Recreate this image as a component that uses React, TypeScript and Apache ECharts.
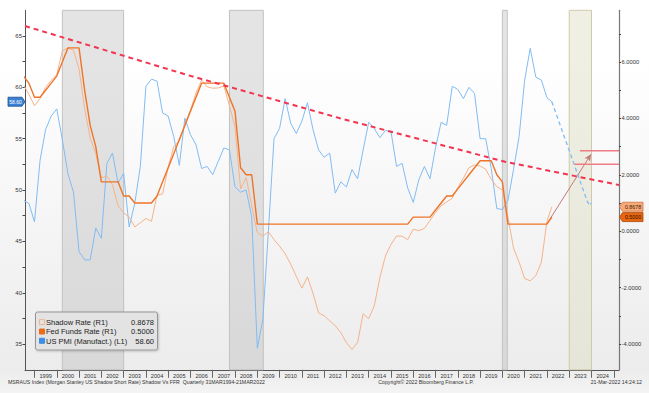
import React, { useEffect, useRef } from "react";
import * as echarts from "echarts";

// Quarter-end dates (decimal years), last point 21-Mar-2022
const TIMES: number[] = [];
for (let i = 0; i < 95; i++) TIMES.push(1998.5 + i * 0.25);
TIMES.push(2022.22);

const FED_FUNDS = [
  5.5, 5.25, 4.75, 4.75, 5.0, 5.25, 5.5, 6.0,
  6.5, 6.5, 6.5, 5.0, 3.75, 3.0, 1.75, 1.75,
  1.75, 1.75, 1.25, 1.25, 1.0, 1.0, 1.0, 1.0,
  1.25, 1.75, 2.25, 2.75, 3.25, 3.75, 4.25, 4.75,
  5.25, 5.25, 5.25, 5.25, 5.25, 4.75, 4.25, 2.25,
  2.0, 2.0, 0.25, 0.25, 0.25, 0.25, 0.25, 0.25,
  0.25, 0.25, 0.25, 0.25, 0.25, 0.25, 0.25, 0.25,
  0.25, 0.25, 0.25, 0.25, 0.25, 0.25, 0.25, 0.25,
  0.25, 0.25, 0.25, 0.25, 0.25, 0.25, 0.5, 0.5,
  0.5, 0.5, 0.75, 1.0, 1.25, 1.25, 1.5, 1.75,
  2.0, 2.25, 2.5, 2.5, 2.5, 2.0, 1.75, 0.25,
  0.25, 0.25, 0.25, 0.25, 0.25, 0.25, 0.25, 0.5,
];

const SHADOW_RATE = [
  5.2, 4.85, 4.45, 4.7, 5.1, 5.35, 5.55, 6.4,
  6.5, 6.42, 5.75, 4.35, 3.3, 2.75, 1.9, 1.95,
  1.65, 0.9, 0.65, 0.5, 0.15, 0.3, 0.45, 0.35,
  1.28, 1.32, 2.27, 3.0, 3.2, 3.8, 4.3, 4.9,
  5.36, 5.12, 5.07, 5.08, 5.15, 4.45, 3.7, 1.5,
  1.9, 0.9, -0.05, -0.17, -0.02, -0.3, -0.53, -0.8,
  -1.17, -1.6, -2.02, -1.62, -2.2, -2.9, -3.0, -3.18,
  -3.35, -3.6, -3.95, -4.19, -3.95, -2.93, -3.1, -2.65,
  -1.65, -0.88, -0.47, -0.17, -0.18, -0.3, 0.07, 0.02,
  0.1, 0.38, 0.66, 0.9, 1.04, 1.17, 1.55, 1.88,
  2.25, 2.35, 2.31, 2.2, 1.84, 1.58, 1.46, 0.5,
  -0.6, -1.1, -1.68, -1.76, -1.58, -1.1, 0.35, 0.8678,
];

const US_PMI = [
  49.0, 48.7, 46.9, 52.9, 55.9, 57.2, 57.9, 54.9,
  51.6, 49.8, 44.0, 43.2, 43.2, 46.3, 45.3, 52.6,
  53.6, 50.7, 51.6, 46.4, 48.7, 52.3, 60.1, 60.8,
  60.6, 57.5, 57.2, 55.2, 52.4, 57.0, 55.4, 54.4,
  52.1, 52.3, 51.5, 52.8, 54.1, 53.9, 50.3, 49.8,
  50.0, 47.4, 34.6, 37.4, 46.1, 55.0, 56.0, 58.9,
  56.5, 55.5, 56.7, 58.5, 55.9, 53.9, 53.2, 53.6,
  49.7, 50.8, 50.3, 52.0, 51.1, 53.9, 56.6, 56.0,
  55.1, 55.8, 55.7, 52.3, 52.6, 50.2, 48.8, 51.0,
  52.3, 51.1, 54.1, 56.6, 56.3, 60.1, 59.8, 58.9,
  60.0, 59.4, 55.0, 55.0, 52.1, 48.2, 48.1, 49.0,
  52.0, 55.2, 60.7, 63.8, 61.0, 60.7, 59.0, 58.6,
];

// Annotations
const TREND_X = [1998.574, 2005.755, 2012.712, 2020.117, 2025.234];
const TREND_Y = [65.97, 61.27, 56.99, 52.76, 50.49];
const PMI_FORECAST_X = [2022.22, 2023.81, 2023.92, 2024.0];
const PMI_FORECAST_Y = [58.6, 48.9, 48.5, 48.75];
const DOT_UPPER = { from: 2023.48, value: 2.85 };
const DOT_LOWER = { from: 2023.23, value: 2.375 };
const ARROW = { from: [2022.03, 0.3], to: [2023.98, 2.73] };
const GREY_BANDS = [
  [2000.25, 2003.0],
  [2007.75, 2009.27],
  [2020.0, 2020.22],
];
const TAN_BAND = [2023.0, 2024.0];

// Axes
const X_MIN = 1998.574;
const X_MAX = 2025.234;
const L_MIN = 32.5;
const L_MAX = 67.5;
const R_MIN = -4.915;
const R_MAX = 7.833;
const YEAR_TICKS = [1999, 2000, 2001, 2002, 2003, 2004, 2005, 2006, 2007, 2008, 2009, 2010, 2011, 2012, 2013, 2014, 2015, 2016, 2017, 2018, 2019, 2020, 2021, 2022, 2023, 2024, 2025];
const YEAR_LABELS = YEAR_TICKS.slice(0, -1).map((y) => y + 0.5);
const LEFT_LABELS = [35, 40, 45, 50, 55, 60, 65];
const LEFT_TICKS = [35, 37.5, 40, 42.5, 45, 47.5, 50, 52.5, 55, 57.5, 60, 62.5, 65];
const RIGHT_LABELS = [-4, -2, 0, 2, 4, 6];
const RIGHT_TICKS = [-4, -3, -2, -1, 0, 1, 2, 3, 4, 5, 6, 7];

const LEGEND = [
  { name: "Shadow Rate (R1)", value: "0.8678" },
  { name: "Fed Funds Rate (R1)", value: "0.5000" },
  { name: "US PMI (Manufact.) (L1)", value: "58.60" },
];

const FONT = "'Liberation Sans', Arial, sans-serif";

const zip = (vals: number[]) => TIMES.map((t, i) => [t, vals[i]]);
const pair = (xs: number[], ys: number[]) => xs.map((x, i) => [x, ys[i]]);

export default function App() {
  const ref = useRef<HTMLDivElement>(null);

  useEffect(() => {
    if (!ref.current) return;
    const chart = echarts.init(ref.current, undefined, { renderer: "svg" });

    const greyStyle = { color: "rgba(185,185,185,0.38)", borderColor: "#c2c2c2", borderWidth: 1 };
    const tanStyle = { color: "rgba(222,219,196,0.45)", borderColor: "#cfcbaa", borderWidth: 1 };

    const option: any = {
      animation: false,
      grid: { left: 25, right: 30, top: 10.3, bottom: 23.2 },
      xAxis: {
        type: "value",
        min: X_MIN,
        max: X_MAX,
        axisLine: { show: true, onZero: false, lineStyle: { color: "#555", width: 1 } },
        axisTick: { show: true, customValues: YEAR_TICKS, length: 8, lineStyle: { color: "#666" } },
        axisLabel: {
          customValues: YEAR_LABELS,
          formatter: (v: number) => String(Math.floor(v)),
          fontSize: 5.6,
          color: "#333",
          margin: 3,
          fontFamily: FONT,
        },
        splitLine: { show: false },
      },
      yAxis: [
        {
          type: "value",
          position: "left",
          min: L_MIN,
          max: L_MAX,
          axisLine: { show: true, lineStyle: { color: "#555", width: 1 } },
          axisTick: { show: true, customValues: LEFT_TICKS, length: 2.5, lineStyle: { color: "#444" } },
          axisLabel: { customValues: LEFT_LABELS, fontSize: 6, color: "#333", margin: 3, fontFamily: FONT },
          splitLine: { show: false },
        },
        {
          type: "value",
          position: "right",
          min: R_MIN,
          max: R_MAX,
          axisLine: { show: true, lineStyle: { color: "#777", width: 1.2 } },
          axisTick: { show: true, customValues: RIGHT_TICKS, length: 2, lineStyle: { color: "#444" } },
          axisLabel: {
            customValues: RIGHT_LABELS,
            formatter: (v: number) => v.toFixed(4),
            fontSize: 5.8,
            color: "#333",
            margin: 2.5,
            fontFamily: FONT,
          },
          splitLine: { show: false },
        },
      ],
      series: [
        {
          name: "US PMI (Manufact.) (L1)",
          type: "line",
          yAxisIndex: 0,
          data: zip(US_PMI),
          symbol: "none",
          lineStyle: { color: "#80bcf4", width: 1 },
          z: 3,
          markArea: {
            silent: true,
            data: [
              ...GREY_BANDS.map((b) => [
                { xAxis: b[0], itemStyle: greyStyle },
                { xAxis: b[1] },
              ]),
              [{ xAxis: TAN_BAND[0], itemStyle: tanStyle }, { xAxis: TAN_BAND[1] }],
            ],
          },
        },
        {
          name: "Shadow Rate (R1)",
          type: "line",
          yAxisIndex: 1,
          data: zip(SHADOW_RATE),
          symbol: "none",
          lineStyle: { color: "#f6b28a", width: 1 },
          z: 4,
        },
        {
          name: "Fed Funds Rate (R1)",
          type: "line",
          yAxisIndex: 1,
          data: zip(FED_FUNDS),
          symbol: "none",
          lineStyle: { color: "#ee7428", width: 1.4 },
          z: 5,
        },
        {
          name: "trend",
          type: "line",
          yAxisIndex: 0,
          data: pair(TREND_X, TREND_Y),
          symbol: "none",
          lineStyle: { color: "#f23450", width: 2, type: [5, 4] },
          z: 6,
        },
        {
          name: "pmiForecast",
          type: "line",
          yAxisIndex: 0,
          data: pair(PMI_FORECAST_X, PMI_FORECAST_Y),
          symbol: "none",
          lineStyle: { color: "#80bcf4", width: 1.3, type: [4, 3] },
          z: 6,
        },
        {
          name: "dotUpper",
          type: "line",
          yAxisIndex: 1,
          data: [
            [DOT_UPPER.from, DOT_UPPER.value],
            [X_MAX, DOT_UPPER.value],
          ],
          symbol: "none",
          lineStyle: { color: "#ef7c84", width: 1.5 },
          z: 6,
        },
        {
          name: "dotLower",
          type: "line",
          yAxisIndex: 1,
          data: [
            [DOT_LOWER.from, DOT_LOWER.value],
            [X_MAX, DOT_LOWER.value],
          ],
          symbol: "none",
          lineStyle: { color: "#ef7c84", width: 1.5 },
          z: 6,
          markLine: {
            silent: true,
            symbol: ["none", "arrow"],
            symbolSize: [5, 7],
            label: { show: false },
            lineStyle: { color: "#c47a7a", width: 1, type: "solid" },
            data: [[{ coord: ARROW.from }, { coord: ARROW.to }]],
          },
        },
      ],
    };

    chart.setOption(option);

    const yL = chart.convertToPixel({ yAxisIndex: 0 } as any, 58.6) as number;
    const yS = chart.convertToPixel({ yAxisIndex: 1 } as any, 0.8678) as number;
    const yF = chart.convertToPixel({ yAxisIndex: 1 } as any, 0.5) as number;

    const rightTag = (y: number, text: string, fill: string, stroke: string, color: string) => ({
      type: "group",
      children: [
        {
          type: "polygon",
          shape: { points: [[619.5, y], [622.5, y - 4.5], [643, y - 4.5], [643, y + 4.5], [622.5, y + 4.5]] },
          style: { fill, stroke, lineWidth: 0.8 },
          z: 20,
        },
        {
          type: "text",
          x: 633,
          y,
          style: { text, fill: color, fontSize: 5.3, fontFamily: FONT, align: "center", verticalAlign: "middle" },
          z: 21,
        },
      ],
    });

    const legendRows = [322.3, 331.7, 341];
    const legendIcons = [
      { fill: "rgba(255,255,255,0)", stroke: "#f6b28a" },
      { fill: "#ee6a1a", stroke: "#ee6a1a" },
      { fill: "#3b8fea", stroke: "#3b8fea" },
    ];

    const graphic: any[] = [
      {
        type: "rect",
        shape: { x: 35.5, y: 312, width: 122, height: 38, r: 2 },
        style: { fill: "#e3e3e3", stroke: "#959595", lineWidth: 1, shadowBlur: 2, shadowColor: "rgba(0,0,0,0.2)", shadowOffsetX: 1, shadowOffsetY: 1 },
        z: 20,
      },
      ...LEGEND.flatMap((item, i) => [
        {
          type: "rect",
          shape: { x: 39.5, y: legendRows[i] - 2.7, width: 5, height: 5 },
          style: { fill: legendIcons[i].fill, stroke: legendIcons[i].stroke, lineWidth: 1 },
          z: 21,
        },
        {
          type: "text",
          x: 46,
          y: legendRows[i],
          style: { text: item.name, fill: "#222", fontSize: 7.5, fontFamily: FONT, verticalAlign: "middle" },
          z: 21,
        },
        {
          type: "text",
          x: 154,
          y: legendRows[i],
          style: { text: item.value, fill: "#222", fontSize: 7.5, fontFamily: FONT, align: "right", verticalAlign: "middle" },
          z: 21,
        },
      ]),
      {
        type: "polygon",
        shape: { points: [[8, yL - 4.5], [22, yL - 4.5], [25, yL], [22, yL + 4.5], [8, yL + 4.5]] },
        style: { fill: "#3a80d4", stroke: "#1d4f90", lineWidth: 0.8 },
        z: 20,
      },
      {
        type: "text",
        x: 15.5,
        y: yL,
        style: { text: "58.60", fill: "#ffffff", fontSize: 5, fontFamily: FONT, align: "center", verticalAlign: "middle" },
        z: 21,
      },
      rightTag(yS, "0.8678", "#f7a978", "#cf7444", "#3a1a00"),
      rightTag(yF, "0.5000", "#e8660f", "#a94806", "#2a0c00"),
      {
        type: "text",
        x: 8,
        y: 382.3,
        style: {
          text: "MSRAUS Index (Morgan Stanley US Shadow Short Rate) Shadow Vs FFR  Quarterly 31MAR1994-21MAR2022",
          fill: "#333",
          fontSize: 5.2,
          fontFamily: FONT,
          verticalAlign: "middle",
        },
      },
      {
        type: "text",
        x: 426,
        y: 382.3,
        style: { text: "Copyright\u00a9 2022 Bloomberg Finance L.P.", fill: "#333", fontSize: 5.2, fontFamily: FONT, align: "center", verticalAlign: "middle" },
      },
      {
        type: "text",
        x: 642,
        y: 382.3,
        style: { text: "21-Mar-2022 14:24:12", fill: "#333", fontSize: 5.2, fontFamily: FONT, align: "right", verticalAlign: "middle" },
      },
    ];

    chart.setOption({ graphic });

    return () => chart.dispose();
  }, []);

  return (
    <div
      ref={ref}
      style={{
        position: "absolute",
        left: 0,
        top: 0,
        width: 649,
        height: 393,
        background: "linear-gradient(#ffffff 0px, #ffffff 60px, #ececec 370px, #f4f4f4 393px)",
      }}
    />
  );
}
